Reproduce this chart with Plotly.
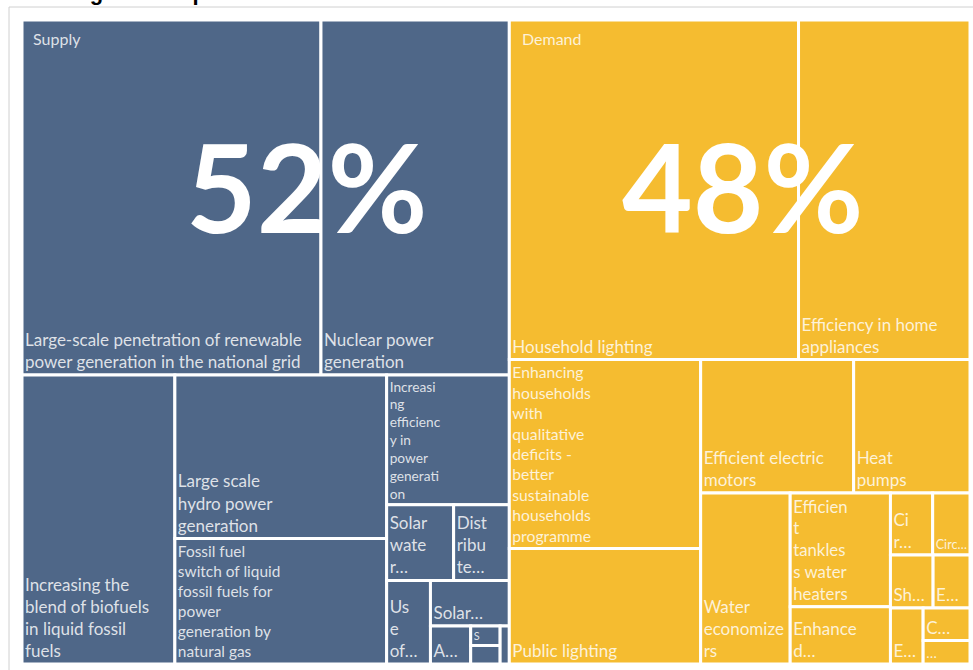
import plotly.graph_objects as go

# ---- data ----
groups = ["Supply", "Demand"]
group_share_labels = ["52%", "48%"]
group_colors = ["#4f6788", "#f5bc30"]

supply_labels = [
    "Large-scale penetration of renewable power generation in the national grid",
    "Nuclear power generation",
    "Increasing the blend of biofuels in liquid fossil fuels",
    "Large scale hydro power generation",
    "Fossil fuel switch of liquid fossil fuels for power generation by natural gas",
    "Increasing efficiency in power generation",
    "Solar water heaters",
    "Distributed generation",
    "Use of biogas",
    "Solar photovoltaic systems",
    "Advanced coal technologies",
    "Smart grids",
    "Carbon capture and storage",
    "Cogeneration",
]
supply_values = [173.8, 109.5, 72.4, 56.8, 43.5, 26.1, 8.3, 6.9, 6.0, 5.9, 2.5, 0.94, 0.89, 0.57]
supply_text = [
    "Large-scale penetration of renewable<br>power generation in the national grid",
    "Nuclear power<br>generation",
    "Increasing the<br>blend of biofuels<br>in liquid fossil<br>fuels",
    "Large scale<br>hydro power<br>generation",
    "Fossil fuel<br>switch of liquid<br>fossil fuels for<br>power<br>generation by<br>natural gas",
    "Increasi<br>ng<br>efficienc<br>y in<br>power<br>generati<br>on",
    "Solar<br>wate<br>r…",
    "Dist<br>ribu<br>te…",
    "Us<br>e<br>of…",
    "Solar…",
    "A…",
    "S",
    "",
    "",
]

demand_labels = [
    "Household lighting",
    "Efficiency in home appliances",
    "Enhancing households with qualitative deficits - better sustainable households programme",
    "Public lighting",
    "Efficient electric motors",
    "Heat pumps",
    "Water economizers",
    "Efficient tankless water heaters",
    "Enhanced insulation",
    "Circular economy",
    "Circulation pumps",
    "Showerheads",
    "Efficient boilers",
    "Efficient air conditioning",
    "Cool roofs",
    "Bioclimatic design",
]
demand_values = [160.9, 95.4, 59.2, 36.2, 33.4, 25.4, 25.1, 18.7, 9.4, 4.3, 3.8, 3.7, 3.2, 3.0, 2.5, 1.8]
demand_text = [
    "Household lighting",
    "Efficiency in home<br>appliances",
    "Enhancing<br>households<br>with<br>qualitative<br>deficits -<br>better<br>sustainable<br>households<br>programme",
    "Public lighting",
    "Efficient electric<br>motors",
    "Heat<br>pumps",
    "Water<br>economize<br>rs",
    "Efficien<br>t<br>tankles<br>s water<br>heaters",
    "Enhance<br>d…",
    "Ci<br>r…",
    "Circ…",
    "Sh…",
    "E…",
    "E…",
    "C…",
    "…",
]

title_text = "Mitigation measures in climate change action plans"

# ---- build treemap arrays ----
ids, labels, parents, values, texts, colors = [], [], [], [], [], []
for g, col in zip(groups, group_colors):
    ids.append(g); labels.append(g); parents.append(""); values.append(0); texts.append(""); colors.append(col)
for lab, v, t in zip(supply_labels, supply_values, supply_text):
    ids.append("Supply/" + lab); labels.append(lab); parents.append("Supply")
    values.append(v); texts.append(t); colors.append(group_colors[0])
for lab, v, t in zip(demand_labels, demand_values, demand_text):
    ids.append("Demand/" + lab); labels.append(lab); parents.append("Demand")
    values.append(v); texts.append(t); colors.append(group_colors[1])

fig = go.Figure(go.Treemap(
    ids=ids, labels=labels, parents=parents, values=values, text=texts,
    texttemplate="%{text}",
    textposition="bottom left",
    textfont=dict(family="Lato, sans-serif", size=17, color="rgba(255,255,255,0.82)"),
    marker=dict(colors=colors, line=dict(color="white", width=3),
                pad=dict(t=0, l=0, r=0, b=0)),
    tiling=dict(packing="squarify", squarifyratio=1, pad=0),
    pathbar=dict(visible=False),
    sort=True,
    hovertemplate="%{label}<extra></extra>",
    root=dict(color="white"),
))

ml, mr, mt, mb = 22, 3, 20, 6
W, H = 973, 670
pw, ph = W - ml - mr, H - mt - mb

def px(x):
    return (x - ml) / pw

def py(y):
    return 1 - (y - mt) / ph

annotations = [
    dict(text="Supply", x=px(31), y=py(39), xanchor="left", yanchor="middle",
         font=dict(family="Lato, sans-serif", size=16, color="rgba(255,255,255,0.82)")),
    dict(text="Demand", x=px(520), y=py(39), xanchor="left", yanchor="middle",
         font=dict(family="Lato, sans-serif", size=16, color="rgba(255,255,255,0.82)")),
    dict(text="<b>" + group_share_labels[0] + "</b>", x=px(307), y=py(186), xanchor="center", yanchor="middle",
         font=dict(family="Lato, sans-serif", size=122, color="white")),
    dict(text="<b>" + group_share_labels[1] + "</b>", x=px(743), y=py(186), xanchor="center", yanchor="middle",
         font=dict(family="Lato, sans-serif", size=122, color="white")),
    dict(text="<b>" + title_text + "</b>", x=px(252), y=py(7), xanchor="right", yanchor="bottom",
         font=dict(family="Liberation Sans, Arial, sans-serif", size=22, color="black")),
]
for a in annotations:
    a.update(xref="paper", yref="paper", showarrow=False)

fig.update_layout(
    width=W, height=H,
    margin=dict(l=ml, r=mr, t=mt, b=mb),
    paper_bgcolor="white",
    annotations=annotations,
    shapes=[dict(type="rect", xref="paper", yref="paper",
                 x0=px(9), x1=px(1000), y0=py(700), y1=py(7),
                 line=dict(color="#d0d0d0", width=1), fillcolor="rgba(0,0,0,0)", layer="below")],
    showlegend=False,
)

fig.write_html("out.html", config={"displayModeBar": False},
               post_script="document.body.style.margin='0';document.body.style.overflow='hidden';")
